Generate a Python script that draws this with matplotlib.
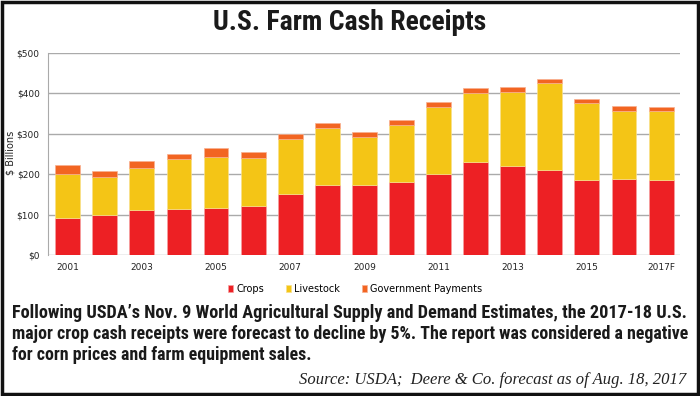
import matplotlib
matplotlib.use("Agg")
import matplotlib.pyplot as plt
from matplotlib.patches import Rectangle
from matplotlib import font_manager

years = ["2001", "2002", "2003", "2004", "2005", "2006", "2007", "2008", "2009",
         "2010", "2011", "2012", "2013", "2014", "2015", "2016", "2017F"]
crops = [92, 100, 110, 114, 115, 122, 150, 174, 172, 180, 200, 231, 221, 211, 185, 187, 186]
livestock = [107, 94, 105, 123, 126, 118, 137, 141, 120, 141, 167, 170, 183, 213, 191, 169, 169]
gov = [23, 13, 17, 13, 24, 15, 13, 12, 12, 13, 10, 11, 10, 10, 10, 12, 12]
yticks = [0, 100, 200, 300, 400, 500]

c_crops = "#ed2024"
c_live = "#f4c516"
c_gov = "#f26522"

# pick a narrow bold face if there is one
have = {f.name for f in font_manager.fontManager.ttflist}
narrow = [n for n in ["Liberation Sans Narrow", "DejaVu Sans Condensed", "Roboto Condensed",
                      "Roboto", "DejaVu Sans"] if n in have][:1] + ["DejaVu Sans"]

fig = plt.figure(figsize=(7, 3.96), dpi=100)
fig.patch.set_facecolor("white")

# outer frame
fig.add_artist(Rectangle((0.003, 0.004), 0.994, 0.992, transform=fig.transFigure,
                         fill=False, edgecolor="#111111", lw=2.5))

ax = fig.add_axes([48 / 700, 141 / 396, 632 / 700, 202.3 / 396])
x = list(range(len(years)))
base2 = [a + b for a, b in zip(crops, livestock)]
ax.bar(x, crops, width=0.67, color=c_crops, edgecolor="#f6a0a0", lw=0.5, zorder=3, label="Crops")
ax.bar(x, livestock, width=0.67, bottom=crops, color=c_live, edgecolor="#f8e08a", lw=0.5,
       zorder=3, label="Livestock")
ax.bar(x, gov, width=0.67, bottom=base2, color=c_gov, edgecolor="#f8b090", lw=0.5,
       zorder=3, label="Government Payments")

ax.set_xlim(-0.53, 16.51)
ax.set_ylim(0, 500)
ax.set_yticks(yticks)
ax.set_yticklabels(["$%d" % v for v in yticks], fontsize=6.5, color="#222222")
ax.set_xticks(x)
ax.set_xticklabels([y if i % 2 == 0 else "" for i, y in enumerate(years)], fontsize=6.5,
                   color="#222222")
ax.tick_params(length=0, pad=6)
ax.grid(axis="y", color="#aaaaaa", lw=1.0, zorder=0)
for s in ["top", "right", "bottom"]:
    ax.spines[s].set_visible(False)
ax.spines["left"].set_color("#aaaaaa")
fig.text(11 / 700, 1 - 153 / 396, "$ Billions", rotation=90, ha="center", va="center",
         fontsize=7, color="#222222")

fig.legend(loc="center", bbox_to_anchor=(355 / 700, 1 - 289 / 396), ncol=3,
           frameon=False, fontsize=7, handlelength=0.6, handleheight=0.6,
           handletextpad=0.3, columnspacing=2.2)

title = fig.text(0.5, 1 - 22 / 396, "U.S. Farm Cash Receipts", ha="center", va="center",
                 fontsize=19, fontweight="bold", family=narrow, color="#1a1a1a")

lines = ["Following USDA\u2019s Nov. 9 World Agricultural Supply and Demand Estimates, the 2017-18 U.S.",
         "major crop cash receipts were forecast to decline by 5%. The report was considered a negative",
         "for corn prices and farm equipment sales."]
body = []
for i, t in enumerate(lines):
    body.append(fig.text(12 / 700, 1 - (313 + 21 * i) / 396, t, ha="left", va="center",
                         fontsize=12.5, fontweight="bold", family=narrow, color="#1a1a1a"))

src = fig.text(686 / 700, 1 - 380 / 396, "Source: USDA;  Deere & Co. forecast as of Aug. 18, 2017",
               ha="right", va="center", fontsize=11.5, style="italic",
               family=["Liberation Serif", "DejaVu Serif"], color="#222222")

# shrink text so it spans the same width as in the original
fig.canvas.draw()
r = fig.canvas.get_renderer()


def fit(t, width, maxsize):
    w = t.get_window_extent(r).width
    t.set_fontsize(min(maxsize, t.get_fontsize() * width / w))


fit(title, 282, 20)
fit(body[0], 676, 14)
fit(body[1], 676, 14)
body[2].set_fontsize(body[1].get_fontsize())
fit(src, 390, 12)

fig.savefig("out.png", dpi=100)
